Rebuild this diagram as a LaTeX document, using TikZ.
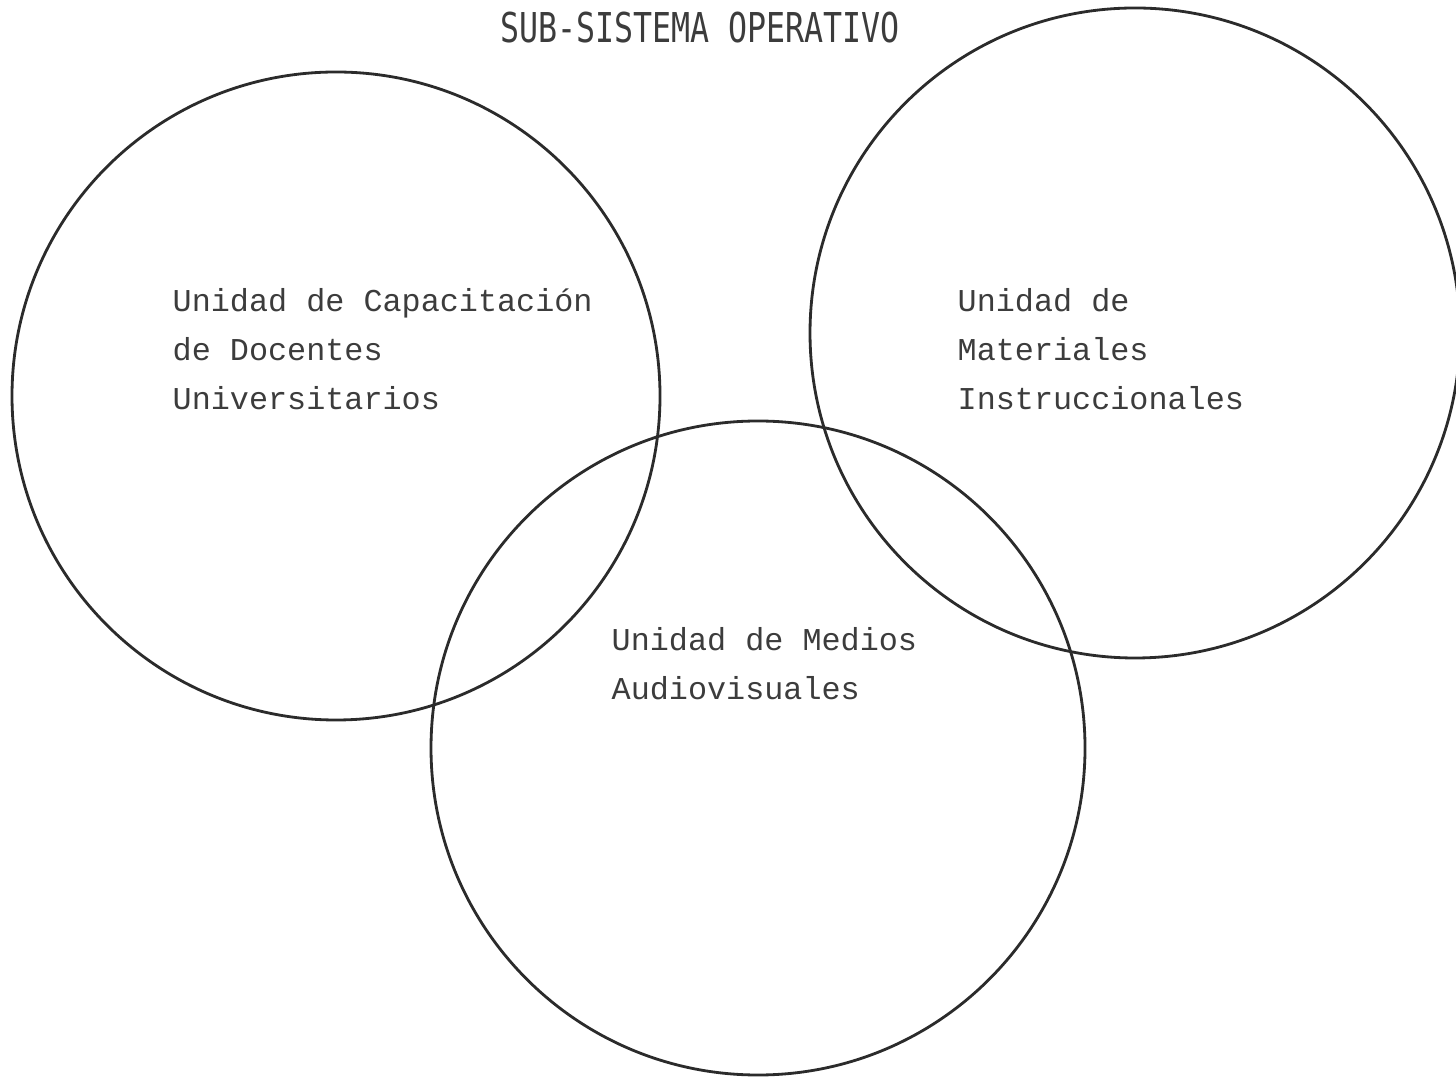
\documentclass[tikz,border=0pt]{standalone}
\usepackage{fontspec}
\setmonofont{Liberation Mono}
\newfontfamily\titlefont{DejaVu Sans Mono}
\definecolor{ink}{HTML}{2B2B2B}
\definecolor{typed}{HTML}{3C3C3C}
\begin{document}
\begin{tikzpicture}[
  unidad/.style={draw=ink,line width=0.8pt,circle,inner sep=0pt},
  rotulo/.style={text=typed,align=left,inner sep=0pt,anchor=west,
    font=\ttfamily\fontsize{9.05}{13.95}\selectfont}]
\useasboundingbox (0,0) rectangle (14.56,10.77);

% Title
\node[text=typed,inner sep=0pt] (titulo) at (7.0,10.49)
  {\titlefont\fontsize{9}{9}\selectfont\scalebox{1}[1.3]{SUB-SISTEMA OPERATIVO}};

% Circles
\node[unidad,minimum size=6.48cm] (cap) at (3.36,6.81) {};
\node[unidad,minimum size=6.5cm] (mat) at (11.35,7.44) {};
\node[unidad,minimum size=6.54cm] (med) at (7.58,3.29) {};

% Labels
\node[rotulo] (capt) at (1.72,7.28) {Unidad de Capacitación\\de Docentes\\Universitarios};
\node[rotulo] (matt) at (9.57,7.28) {Unidad de\\Materiales\\Instruccionales};
\node[rotulo] (medt) at (6.11,4.13) {Unidad de Medios\\Audiovisuales};
\end{tikzpicture}
\end{document}
